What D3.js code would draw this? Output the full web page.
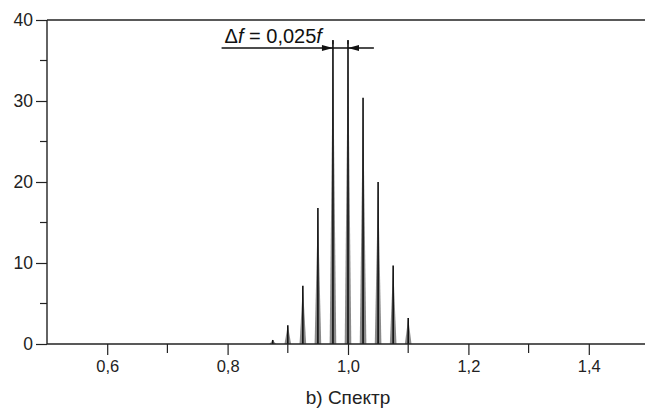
<!DOCTYPE html>
<html>
<head>
<meta charset="utf-8">
<script src="https://cdn.jsdelivr.net/npm/d3@7.9.0/dist/d3.min.js"></script>
<style>
  html, body { margin: 0; padding: 0; background: #fff; }
  svg { display: block; font-family: 'Liberation Sans', Arial, sans-serif; }
</style>
</head>
<body>
<svg id="chart" width="645" height="409"></svg>
<script>
// spectral lines (relative frequency, amplitude)
const freqs = [0.875, 0.9, 0.925, 0.95, 0.975, 1.0, 1.025, 1.05, 1.075, 1.1];
const amps = [0.5, 2.3, 7.2, 16.8, 37.5, 37.5, 30.4, 20.0, 9.7, 3.2];

const xTicks = [0.6, 0.8, 1.0, 1.2, 1.4];
const xMinor = [0.7, 0.9, 1.1, 1.3];
const yTicks = [0, 10, 20, 30, 40];
const yMinor = [5, 15, 25, 35];

const title = 'b) Спектр';

const svg = d3.select('#chart');
const ink = '#222';

const x = d3.scaleLinear().domain([0.5, 1.5]).range([47, 649]);
const y = d3.scaleLinear().domain([0, 40]).range([344, 20]);

// spikes
const spikes = svg.append('g');
freqs.forEach((f, i) => {
  const hw = 0.0055;
  spikes.append('path')
    .attr('d', `M${x(f - hw)},${y(0)} L${x(f)},${y(amps[i])} L${x(f + hw)},${y(0)} Z`)
    .attr('fill', '#8a8a8a');
  spikes.append('line')
    .attr('x1', x(f)).attr('x2', x(f))
    .attr('y1', y(0)).attr('y2', y(amps[i]))
    .attr('stroke', '#111').attr('stroke-width', 1.6);
});

// axes
const xAxis = d3.axisBottom(x).tickValues(xTicks).tickSize(11).tickPadding(5)
  .tickFormat(d => d3.format('.1f')(d).replace('.', ','));
const gx = svg.append('g').attr('transform', `translate(0,${y(0)})`).call(xAxis);
gx.select('.domain').remove();
gx.selectAll('line').attr('stroke', ink).attr('stroke-width', 1.2);
gx.selectAll('text').attr('font-size', 16.5).attr('fill', ink);

svg.append('g').selectAll('line').data(xMinor).join('line')
  .attr('x1', d => x(d)).attr('x2', d => x(d))
  .attr('y1', y(0)).attr('y2', y(0) + 9)
  .attr('stroke', ink).attr('stroke-width', 1.2);

const yAxis = d3.axisLeft(y).tickValues(yTicks).tickSize(11).tickPadding(3);
const gy = svg.append('g').attr('transform', `translate(${x(0.5)},0)`).call(yAxis);
gy.select('.domain').remove();
gy.selectAll('line').attr('stroke', ink).attr('stroke-width', 1.2);
gy.selectAll('text').attr('font-size', 17.5).attr('fill', ink);

svg.append('g').selectAll('line').data(yMinor).join('line')
  .attr('x1', x(0.5) - 7).attr('x2', x(0.5))
  .attr('y1', d => y(d)).attr('y2', d => y(d))
  .attr('stroke', ink).attr('stroke-width', 1.2);

// frame lines
svg.append('line').attr('x1', x(0.5)).attr('x2', 645).attr('y1', y(0)).attr('y2', y(0))
  .attr('stroke', ink).attr('stroke-width', 1.4);
svg.append('line').attr('x1', x(0.5)).attr('x2', 645).attr('y1', y(40)).attr('y2', y(40))
  .attr('stroke', ink).attr('stroke-width', 1.4);
svg.append('line').attr('x1', x(0.5)).attr('x2', x(0.5)).attr('y1', y(40)).attr('y2', y(0))
  .attr('stroke', ink).attr('stroke-width', 1.4);

// annotation: spacing between lines
const ay = 48;
const a1 = x(0.975), a2 = x(1.0);
svg.append('line').attr('x1', x(0.79)).attr('x2', x(1.043)).attr('y1', ay).attr('y2', ay)
  .attr('stroke', '#111').attr('stroke-width', 1.3);
[a1, a2].forEach(v => {
  svg.append('line').attr('x1', v).attr('x2', v).attr('y1', 40).attr('y2', y(37))
    .attr('stroke', '#111').attr('stroke-width', 1.2);
});
svg.append('path')
  .attr('d', `M${a1},${ay} L${a1 - 11},${ay - 3} L${a1 - 11},${ay + 3} Z`)
  .attr('fill', '#111');
svg.append('path')
  .attr('d', `M${a2},${ay} L${a2 + 11},${ay - 3} L${a2 + 11},${ay + 3} Z`)
  .attr('fill', '#111');

const ann = svg.append('text').attr('x', x(0.79) + 3).attr('y', ay - 5)
  .attr('font-size', 20).attr('fill', '#111');
ann.append('tspan').text('Δ');
ann.append('tspan').attr('font-style', 'italic').text('f');
ann.append('tspan').text(' = 0,025');
ann.append('tspan').attr('font-style', 'italic').text('f');

svg.append('text').attr('x', x(1.0)).attr('y', 404)
  .attr('text-anchor', 'middle').attr('font-size', 19).attr('fill', ink)
  .text(title);
</script>
</body>
</html>
